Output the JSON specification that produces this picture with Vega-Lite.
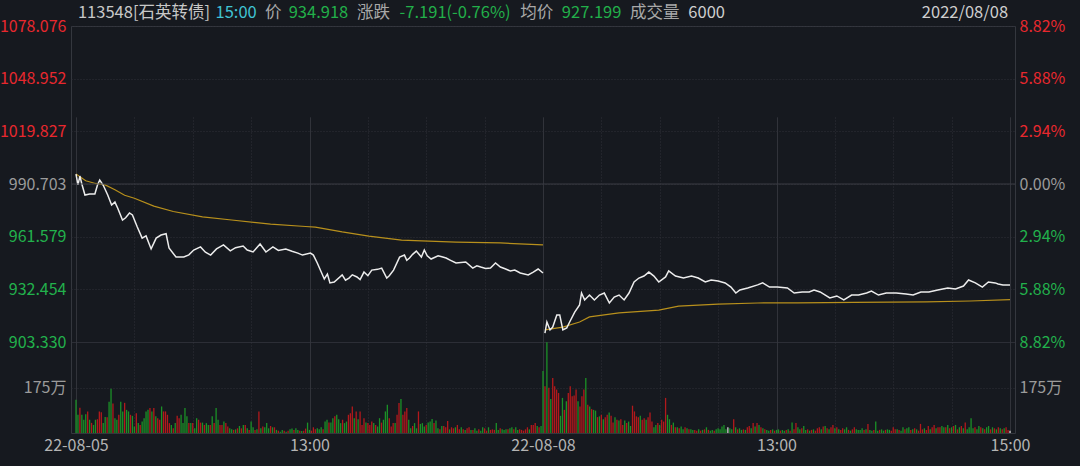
{
"$schema": "https://vega.github.io/schema/vega-lite/v6.json",
"background": "#16191f",
"autosize": {"type": "none"},
"padding": {"left": 71, "top": 26, "right": 65, "bottom": 33},
"width": 944,
"height": 407,
"config": {
  "view": {"stroke": "#34373e", "strokeWidth": 1},
  "font": "Noto Sans CJK SC",
  "axis": {"labelFont": "Noto Sans CJK SC", "labelFontSize": 16, "ticks": false, "domain": false, "title": null, "gridColor": "#2e3138", "gridWidth": 1},
  "text": {"font": "Noto Sans CJK SC", "fontSize": 16.5, "baseline": "middle", "align": "left"}
},
"datasets": {
"price": [
{"d":1,"i":0,"p":996.2},{"d":1,"i":1,"p":990.2},{"d":1,"i":2,"p":995.1},{"d":1,"i":3,"p":990.7},{"d":1,"i":4.6,"p":984.6},{"d":1,"i":7,"p":985.2},{"d":1,"i":9.7,"p":985.2},{"d":1,"i":11,"p":990},{"d":1,"i":12.2,"p":992.9},{"d":1,"i":14,"p":990},{"d":1,"i":16.3,"p":984.6},{"d":1,"i":18.3,"p":979.1},{"d":1,"i":20,"p":980.7},{"d":1,"i":21.4,"p":977.4},{"d":1,"i":23.9,"p":970.8},{"d":1,"i":25.5,"p":972},{"d":1,"i":27.5,"p":974.7},{"d":1,"i":29,"p":973.6},{"d":1,"i":31.5,"p":966.9},{"d":1,"i":34,"p":960.8},{"d":1,"i":36,"p":962},{"d":1,"i":38.6,"p":954.8},{"d":1,"i":41.2,"p":960.8},{"d":1,"i":43.7,"p":962.5},{"d":1,"i":46.3,"p":963.2},{"d":1,"i":47.8,"p":955.3},{"d":1,"i":51.4,"p":950.3},{"d":1,"i":55.4,"p":950.3},{"d":1,"i":58,"p":951.5},{"d":1,"i":60.5,"p":954.2},{"d":1,"i":64,"p":955.9},{"d":1,"i":66.5,"p":953},{"d":1,"i":69.2,"p":951.4},{"d":1,"i":72.2,"p":954.8},{"d":1,"i":75.8,"p":957},{"d":1,"i":79.3,"p":953.7},{"d":1,"i":82,"p":955.5},{"d":1,"i":85.9,"p":956.4},{"d":1,"i":88,"p":954.2},{"d":1,"i":91,"p":953.1},{"d":1,"i":94.6,"p":957.5},{"d":1,"i":97.6,"p":953.1},{"d":1,"i":101.2,"p":955.9},{"d":1,"i":104,"p":954},{"d":1,"i":107.8,"p":954.8},{"d":1,"i":111,"p":953.5},{"d":1,"i":114,"p":952.5},{"d":1,"i":116.4,"p":951.4},{"d":1,"i":120.5,"p":952.5},{"d":1,"i":122,"p":951.4},{"d":1,"i":124,"p":947},{"d":1,"i":127.6,"p":938.2},{"d":1,"i":129.2,"p":940.9},{"d":1,"i":130.5,"p":936},{"d":1,"i":132.7,"p":936.5},{"d":1,"i":136.8,"p":940.4},{"d":1,"i":138.5,"p":937.5},{"d":1,"i":140.3,"p":938.7},{"d":1,"i":142,"p":940.5},{"d":1,"i":144.4,"p":939.3},{"d":1,"i":146,"p":937.8},{"d":1,"i":148,"p":942},{"d":1,"i":150,"p":940},{"d":1,"i":152,"p":943.1},{"d":1,"i":155,"p":943.5},{"d":1,"i":157.1,"p":944.2},{"d":1,"i":159.7,"p":938.7},{"d":1,"i":161,"p":940},{"d":1,"i":163.2,"p":943.1},{"d":1,"i":166.3,"p":950.3},{"d":1,"i":168.8,"p":951.4},{"d":1,"i":170,"p":948.5},{"d":1,"i":171.4,"p":949.8},{"d":1,"i":173,"p":951.8},{"d":1,"i":174.9,"p":953.6},{"d":1,"i":177.5,"p":950.3},{"d":1,"i":179,"p":954.2},{"d":1,"i":180.5,"p":951},{"d":1,"i":182.5,"p":949.2},{"d":1,"i":186.1,"p":951},{"d":1,"i":188,"p":950.5},{"d":1,"i":190.2,"p":949.8},{"d":1,"i":192.5,"p":948.5},{"d":1,"i":195.3,"p":947},{"d":1,"i":200.3,"p":947.6},{"d":1,"i":203.9,"p":944.2},{"d":1,"i":206,"p":945.5},{"d":1,"i":208,"p":944.8},{"d":1,"i":210.5,"p":944},{"d":1,"i":213,"p":944.2},{"d":1,"i":215.6,"p":947},{"d":1,"i":218.1,"p":944.8},{"d":1,"i":220.5,"p":943.8},{"d":1,"i":223.2,"p":942.6},{"d":1,"i":225.5,"p":943.1},{"d":1,"i":228.3,"p":941.5},{"d":1,"i":232.4,"p":940.4},{"d":1,"i":235,"p":942},{"d":1,"i":237.5,"p":943.7},{"d":1,"i":240,"p":941.5},
{"d":2,"i":241,"p":908.3},{"d":2,"i":242,"p":914.4},{"d":2,"i":243.6,"p":910},{"d":2,"i":245,"p":911.6},{"d":2,"i":247.1,"p":918.3},{"d":2,"i":248.6,"p":918.3},{"d":2,"i":250.2,"p":910},{"d":2,"i":252.2,"p":911.1},{"d":2,"i":253.7,"p":914.4},{"d":2,"i":256.3,"p":919.9},{"d":2,"i":258.8,"p":923.8},{"d":2,"i":259.8,"p":930.4},{"d":2,"i":261.4,"p":926.6},{"d":2,"i":263.9,"p":929.3},{"d":2,"i":266.4,"p":926.6},{"d":2,"i":269,"p":929.3},{"d":2,"i":271.5,"p":930.4},{"d":2,"i":274.1,"p":924.9},{"d":2,"i":276.6,"p":928.2},{"d":2,"i":279.1,"p":929.3},{"d":2,"i":281.7,"p":926.6},{"d":2,"i":284.2,"p":930.4},{"d":2,"i":286.8,"p":936.5},{"d":2,"i":289.3,"p":938.7},{"d":2,"i":291.9,"p":939.8},{"d":2,"i":294.4,"p":942},{"d":2,"i":297,"p":939.8},{"d":2,"i":299.5,"p":936.5},{"d":2,"i":303,"p":939.3},{"d":2,"i":304.6,"p":942.6},{"d":2,"i":308.1,"p":939.8},{"d":2,"i":312.2,"p":938.7},{"d":2,"i":316.3,"p":939.8},{"d":2,"i":319.8,"p":938.7},{"d":2,"i":323.4,"p":936.5},{"d":2,"i":326.4,"p":937.6},{"d":2,"i":330,"p":937.1},{"d":2,"i":333.6,"p":936},{"d":2,"i":336.6,"p":933.7},{"d":2,"i":339.1,"p":930.4},{"d":2,"i":341.2,"p":932.1},{"d":2,"i":345.2,"p":933.2},{"d":2,"i":350.3,"p":934.9},{"d":2,"i":352.9,"p":936},{"d":2,"i":356.4,"p":933.7},{"d":2,"i":360.5,"p":933.7},{"d":2,"i":365.6,"p":933.2},{"d":2,"i":369.1,"p":930.4},{"d":2,"i":373.2,"p":931},{"d":2,"i":376.8,"p":931},{"d":2,"i":379.3,"p":932.1},{"d":2,"i":382.4,"p":931},{"d":2,"i":387.4,"p":927.7},{"d":2,"i":391,"p":928.8},{"d":2,"i":394.6,"p":926.6},{"d":2,"i":398.6,"p":929.3},{"d":2,"i":402.2,"p":929.3},{"d":2,"i":406.3,"p":930.4},{"d":2,"i":408.8,"p":931.5},{"d":2,"i":412.4,"p":929.3},{"d":2,"i":416.4,"p":930.4},{"d":2,"i":421.5,"p":930.4},{"d":2,"i":426.6,"p":929.9},{"d":2,"i":430.2,"p":929.3},{"d":2,"i":434.2,"p":931},{"d":2,"i":438.3,"p":931},{"d":2,"i":442.9,"p":932.1},{"d":2,"i":448,"p":933.2},{"d":2,"i":452,"p":932.6},{"d":2,"i":456.1,"p":934.3},{"d":2,"i":458.7,"p":937.6},{"d":2,"i":462.2,"p":936},{"d":2,"i":465.8,"p":933.7},{"d":2,"i":468.9,"p":936.5},{"d":2,"i":472.4,"p":936},{"d":2,"i":473.9,"p":935.4},{"d":2,"i":476.4,"p":934.9},{"d":2,"i":480,"p":934.9}
],
"avg": [
{"d":1,"i":0,"a":996.2},{"d":1,"i":5,"a":992.5},{"d":1,"i":10,"a":991},{"d":1,"i":15,"a":990.2},{"d":1,"i":20,"a":987.5},{"d":1,"i":25,"a":984.5},{"d":1,"i":30,"a":982.8},{"d":1,"i":40,"a":978.5},{"d":1,"i":50,"a":975.5},{"d":1,"i":65,"a":972.5},{"d":1,"i":80,"a":970.8},{"d":1,"i":100,"a":968.5},{"d":1,"i":118,"a":967.2},{"d":1,"i":123,"a":966.9},{"d":1,"i":136.8,"a":964.2},{"d":1,"i":150.5,"a":961.9},{"d":1,"i":167.3,"a":959.7},{"d":1,"i":195.3,"a":958.6},{"d":1,"i":218,"a":958.1},{"d":1,"i":240,"a":957},
{"d":2,"i":241,"a":910},{"d":2,"i":250.2,"a":911.6},{"d":2,"i":258.8,"a":914.4},{"d":2,"i":263.9,"a":917.2},{"d":2,"i":279.1,"a":919.4},{"d":2,"i":299.5,"a":921},{"d":2,"i":309.7,"a":923.2},{"d":2,"i":330,"a":924.3},{"d":2,"i":350.3,"a":924.9},{"d":2,"i":370.7,"a":925},{"d":2,"i":400,"a":925.2},{"d":2,"i":436.8,"a":925.5},{"d":2,"i":459.7,"a":926},{"d":2,"i":480,"a":926.8}
],
"vol": [
{"i":0,"v":128,"u":"d"},{"i":1,"v":70,"u":"d"},{"i":2,"v":97,"u":"u"},{"i":3,"v":70,"u":"d"},{"i":4,"v":51,"u":"d"},{"i":5,"v":72,"u":"d"},{"i":6,"v":83,"u":"u"},{"i":7,"v":51,"u":"d"},{"i":8,"v":39,"u":"u"},{"i":9,"v":31,"u":"d"},{"i":10,"v":51,"u":"d"},{"i":11,"v":53,"u":"u"},{"i":12,"v":83,"u":"u"},{"i":13,"v":80,"u":"u"},{"i":14,"v":38,"u":"d"},{"i":15,"v":62,"u":"d"},{"i":16,"v":61,"u":"u"},{"i":17,"v":120,"u":"d"},{"i":18,"v":170,"u":"d"},{"i":19,"v":113,"u":"u"},{"i":20,"v":57,"u":"d"},{"i":21,"v":51,"u":"d"},{"i":22,"v":70,"u":"u"},{"i":23,"v":120,"u":"d"},{"i":24,"v":83,"u":"d"},{"i":25,"v":116,"u":"u"},{"i":26,"v":89,"u":"d"},{"i":27,"v":83,"u":"d"},{"i":28,"v":70,"u":"u"},{"i":29,"v":66,"u":"d"},{"i":30,"v":25,"u":"d"},{"i":31,"v":76,"u":"u"},{"i":32,"v":38,"u":"d"},{"i":33,"v":31,"u":"u"},{"i":34,"v":44,"u":"d"},{"i":35,"v":57,"u":"d"},{"i":36,"v":83,"u":"d"},{"i":37,"v":89,"u":"d"},{"i":38,"v":96,"u":"u"},{"i":39,"v":83,"u":"d"},{"i":40,"v":96,"u":"u"},{"i":41,"v":64,"u":"d"},{"i":42,"v":57,"u":"u"},{"i":43,"v":51,"u":"u"},{"i":44,"v":102,"u":"d"},{"i":45,"v":83,"u":"u"},{"i":46,"v":83,"u":"u"},{"i":47,"v":70,"u":"u"},{"i":48,"v":38,"u":"u"},{"i":49,"v":31,"u":"d"},{"i":50,"v":18,"u":"u"},{"i":51,"v":38,"u":"d"},{"i":52,"v":66,"u":"u"},{"i":53,"v":57,"u":"u"},{"i":54,"v":70,"u":"d"},{"i":55,"v":38,"u":"d"},{"i":56,"v":96,"u":"d"},{"i":57,"v":64,"u":"d"},{"i":58,"v":38,"u":"u"},{"i":59,"v":38,"u":"d"},{"i":60,"v":38,"u":"u"},{"i":61,"v":18,"u":"d"},{"i":62,"v":57,"u":"d"},{"i":63,"v":51,"u":"u"},{"i":64,"v":40,"u":"u"},{"i":65,"v":40,"u":"d"},{"i":66,"v":31,"u":"u"},{"i":67,"v":38,"u":"d"},{"i":68,"v":31,"u":"d"},{"i":69,"v":31,"u":"u"},{"i":70,"v":64,"u":"d"},{"i":71,"v":38,"u":"u"},{"i":72,"v":96,"u":"d"},{"i":73,"v":51,"u":"d"},{"i":74,"v":31,"u":"u"},{"i":75,"v":31,"u":"u"},{"i":76,"v":44,"u":"d"},{"i":77,"v":38,"u":"u"},{"i":78,"v":25,"u":"u"},{"i":79,"v":18,"u":"d"},{"i":80,"v":14,"u":"d"},{"i":81,"v":12,"u":"u"},{"i":82,"v":14,"u":"d"},{"i":83,"v":18,"u":"u"},{"i":84,"v":27,"u":"d"},{"i":85,"v":18,"u":"u"},{"i":86,"v":31,"u":"d"},{"i":87,"v":31,"u":"u"},{"i":88,"v":18,"u":"d"},{"i":89,"v":12,"u":"u"},{"i":90,"v":44,"u":"d"},{"i":91,"v":22,"u":"d"},{"i":92,"v":12,"u":"u"},{"i":93,"v":14,"u":"d"},{"i":94,"v":83,"u":"u"},{"i":95,"v":18,"u":"d"},{"i":96,"v":25,"u":"u"},{"i":97,"v":22,"u":"d"},{"i":98,"v":38,"u":"d"},{"i":99,"v":18,"u":"d"},{"i":100,"v":27,"u":"u"},{"i":101,"v":22,"u":"d"},{"i":102,"v":22,"u":"u"},{"i":103,"v":12,"u":"d"},{"i":104,"v":9,"u":"u"},{"i":105,"v":5,"u":"d"},{"i":106,"v":12,"u":"d"},{"i":107,"v":9,"u":"u"},{"i":108,"v":5,"u":"d"},{"i":109,"v":9,"u":"u"},{"i":110,"v":14,"u":"d"},{"i":111,"v":17,"u":"d"},{"i":112,"v":12,"u":"u"},{"i":113,"v":18,"u":"d"},{"i":114,"v":12,"u":"d"},{"i":115,"v":9,"u":"u"},{"i":116,"v":8,"u":"d"},{"i":117,"v":9,"u":"u"},{"i":118,"v":17,"u":"u"},{"i":119,"v":40,"u":"d"},{"i":120,"v":12,"u":"d"},{"i":121,"v":9,"u":"u"},{"i":122,"v":22,"u":"u"},{"i":123,"v":14,"u":"u"},{"i":124,"v":18,"u":"d"},{"i":125,"v":14,"u":"d"},{"i":126,"v":22,"u":"d"},{"i":127,"v":14,"u":"u"},{"i":128,"v":44,"u":"d"},{"i":129,"v":51,"u":"d"},{"i":130,"v":40,"u":"u"},{"i":131,"v":40,"u":"d"},{"i":132,"v":57,"u":"d"},{"i":133,"v":64,"u":"u"},{"i":134,"v":70,"u":"d"},{"i":135,"v":53,"u":"d"},{"i":136,"v":38,"u":"d"},{"i":137,"v":51,"u":"u"},{"i":138,"v":38,"u":"d"},{"i":139,"v":44,"u":"d"},{"i":140,"v":70,"u":"u"},{"i":141,"v":76,"u":"u"},{"i":142,"v":102,"u":"u"},{"i":143,"v":57,"u":"d"},{"i":144,"v":83,"u":"u"},{"i":145,"v":53,"u":"d"},{"i":146,"v":83,"u":"u"},
{"i":147,"v":31,"u":"u"},{"i":148,"v":57,"u":"u"},{"i":149,"v":40,"u":"d"},{"i":150,"v":38,"u":"u"},{"i":151,"v":31,"u":"u"},{"i":152,"v":44,"u":"u"},{"i":153,"v":38,"u":"d"},{"i":154,"v":31,"u":"u"},{"i":155,"v":25,"u":"d"},{"i":156,"v":57,"u":"d"},{"i":157,"v":40,"u":"u"},{"i":158,"v":51,"u":"d"},{"i":159,"v":83,"u":"d"},{"i":160,"v":109,"u":"d"},{"i":161,"v":57,"u":"u"},{"i":162,"v":25,"u":"u"},{"i":163,"v":38,"u":"u"},{"i":164,"v":38,"u":"d"},{"i":165,"v":70,"u":"u"},{"i":166,"v":115,"u":"u"},{"i":167,"v":131,"u":"d"},{"i":168,"v":70,"u":"u"},{"i":169,"v":83,"u":"u"},{"i":170,"v":96,"u":"u"},{"i":171,"v":51,"u":"d"},{"i":172,"v":18,"u":"d"},{"i":173,"v":27,"u":"u"},{"i":174,"v":38,"u":"d"},{"i":175,"v":18,"u":"d"},{"i":176,"v":83,"u":"u"},{"i":177,"v":35,"u":"d"},{"i":178,"v":38,"u":"d"},{"i":179,"v":25,"u":"d"},{"i":180,"v":31,"u":"u"},{"i":181,"v":40,"u":"d"},{"i":182,"v":44,"u":"d"},{"i":183,"v":54,"u":"d"},{"i":184,"v":38,"u":"u"},{"i":185,"v":48,"u":"d"},{"i":186,"v":18,"u":"d"},{"i":187,"v":14,"u":"u"},{"i":188,"v":27,"u":"d"},{"i":189,"v":27,"u":"u"},{"i":190,"v":22,"u":"u"},{"i":191,"v":46,"u":"u"},{"i":192,"v":14,"u":"d"},{"i":193,"v":22,"u":"u"},{"i":194,"v":18,"u":"u"},{"i":195,"v":22,"u":"d"},{"i":196,"v":31,"u":"u"},{"i":197,"v":14,"u":"u"},{"i":198,"v":22,"u":"d"},{"i":199,"v":14,"u":"u"},{"i":200,"v":12,"u":"d"},{"i":201,"v":18,"u":"u"},{"i":202,"v":22,"u":"u"},{"i":203,"v":12,"u":"d"},{"i":204,"v":12,"u":"u"},{"i":205,"v":18,"u":"d"},{"i":206,"v":9,"u":"d"},{"i":207,"v":14,"u":"u"},{"i":208,"v":9,"u":"d"},{"i":209,"v":22,"u":"d"},{"i":210,"v":18,"u":"u"},{"i":211,"v":9,"u":"u"},{"i":212,"v":22,"u":"d"},{"i":213,"v":12,"u":"u"},{"i":214,"v":14,"u":"u"},{"i":215,"v":12,"u":"u"},{"i":216,"v":38,"u":"d"},{"i":217,"v":12,"u":"d"},{"i":218,"v":18,"u":"u"},{"i":219,"v":14,"u":"d"},{"i":220,"v":12,"u":"d"},{"i":221,"v":14,"u":"d"},{"i":222,"v":14,"u":"u"},{"i":223,"v":18,"u":"d"},{"i":224,"v":22,"u":"d"},{"i":225,"v":14,"u":"u"},{"i":226,"v":22,"u":"d"},{"i":227,"v":12,"u":"d"},{"i":228,"v":14,"u":"u"},{"i":229,"v":12,"u":"u"},{"i":230,"v":9,"u":"u"},{"i":231,"v":14,"u":"u"},{"i":232,"v":22,"u":"u"},{"i":233,"v":14,"u":"d"},{"i":234,"v":31,"u":"u"},{"i":235,"v":31,"u":"u"},{"i":236,"v":38,"u":"u"},{"i":237,"v":27,"u":"d"},{"i":238,"v":22,"u":"u"},{"i":239,"v":27,"u":"d"},
{"i":240,"v":238,"u":"d"},{"i":241,"v":180,"u":"u"},{"i":242,"v":349,"u":"d"},{"i":243,"v":174,"u":"u"},{"i":244,"v":131,"u":"d"},{"i":245,"v":212,"u":"u"},{"i":246,"v":180,"u":"u"},{"i":247,"v":167,"u":"u"},{"i":248,"v":154,"u":"u"},{"i":249,"v":66,"u":"d"},{"i":250,"v":135,"u":"d"},{"i":251,"v":89,"u":"u"},{"i":252,"v":122,"u":"d"},{"i":253,"v":154,"u":"u"},{"i":254,"v":180,"u":"u"},{"i":255,"v":141,"u":"u"},{"i":256,"v":144,"u":"u"},{"i":257,"v":167,"u":"u"},{"i":258,"v":122,"u":"d"},{"i":259,"v":102,"u":"u"},{"i":260,"v":141,"u":"u"},{"i":261,"v":167,"u":"u"},{"i":262,"v":212,"u":"d"},{"i":263,"v":109,"u":"u"},{"i":264,"v":102,"u":"d"},{"i":265,"v":92,"u":"u"},{"i":266,"v":89,"u":"d"},{"i":267,"v":86,"u":"d"},{"i":268,"v":61,"u":"u"},{"i":269,"v":64,"u":"d"},{"i":270,"v":70,"u":"u"},{"i":271,"v":53,"u":"d"},{"i":272,"v":61,"u":"u"},{"i":273,"v":70,"u":"u"},{"i":274,"v":79,"u":"d"},{"i":275,"v":66,"u":"u"},{"i":276,"v":40,"u":"u"},{"i":277,"v":61,"u":"d"},{"i":278,"v":51,"u":"u"},{"i":279,"v":48,"u":"d"},{"i":280,"v":53,"u":"u"},{"i":281,"v":31,"u":"u"},{"i":282,"v":48,"u":"d"},{"i":283,"v":38,"u":"u"},{"i":284,"v":44,"u":"d"},{"i":285,"v":27,"u":"d"},{"i":286,"v":105,"u":"u"},{"i":287,"v":83,"u":"u"},{"i":288,"v":64,"u":"u"},{"i":289,"v":61,"u":"u"},{"i":290,"v":66,"u":"d"},{"i":291,"v":51,"u":"u"},{"i":292,"v":57,"u":"u"},{"i":293,"v":51,"u":"d"},{"i":294,"v":61,"u":"u"},{"i":295,"v":79,"u":"u"},{"i":296,"v":44,"u":"u"},{"i":297,"v":22,"u":"d"},{"i":298,"v":31,"u":"d"},{"i":299,"v":38,"u":"u"},{"i":300,"v":31,"u":"d"},{"i":301,"v":51,"u":"u"},{"i":302,"v":44,"u":"u"},{"i":303,"v":135,"u":"u"},{"i":304,"v":70,"u":"d"},{"i":305,"v":53,"u":"d"},{"i":306,"v":31,"u":"u"},{"i":307,"v":40,"u":"d"},{"i":308,"v":22,"u":"u"},{"i":309,"v":22,"u":"d"},{"i":310,"v":18,"u":"u"},{"i":311,"v":25,"u":"d"},{"i":312,"v":14,"u":"d"},{"i":313,"v":22,"u":"u"},{"i":314,"v":18,"u":"d"},{"i":315,"v":14,"u":"u"},{"i":316,"v":14,"u":"d"},{"i":317,"v":12,"u":"d"},{"i":318,"v":12,"u":"u"},{"i":319,"v":9,"u":"u"},{"i":320,"v":14,"u":"d"},{"i":321,"v":9,"u":"u"},{"i":322,"v":12,"u":"d"},{"i":323,"v":14,"u":"u"},{"i":324,"v":22,"u":"d"},{"i":325,"v":12,"u":"u"},{"i":326,"v":9,"u":"d"},{"i":327,"v":12,"u":"d"},{"i":328,"v":9,"u":"u"},{"i":329,"v":14,"u":"d"},
{"i":330,"v":18,"u":"d"},{"i":331,"v":14,"u":"d"},{"i":332,"v":25,"u":"d"},{"i":333,"v":31,"u":"d"},{"i":334,"v":14,"u":"d"},{"i":335,"v":22,"u":"f"},{"i":336,"v":18,"u":"d"},{"i":337,"v":14,"u":"d"},{"i":338,"v":53,"u":"u"},{"i":339,"v":22,"u":"d"},{"i":340,"v":14,"u":"u"},{"i":341,"v":18,"u":"d"},{"i":342,"v":12,"u":"d"},{"i":343,"v":14,"u":"u"},{"i":344,"v":12,"u":"d"},{"i":345,"v":22,"u":"u"},{"i":346,"v":27,"u":"u"},{"i":347,"v":18,"u":"d"},{"i":348,"v":38,"u":"u"},{"i":349,"v":25,"u":"d"},{"i":350,"v":38,"u":"u"},{"i":351,"v":31,"u":"d"},{"i":352,"v":22,"u":"u"},{"i":353,"v":18,"u":"d"},{"i":354,"v":14,"u":"u"},{"i":355,"v":12,"u":"d"},{"i":356,"v":9,"u":"d"},{"i":357,"v":12,"u":"u"},{"i":358,"v":14,"u":"d"},{"i":359,"v":9,"u":"u"},{"i":360,"v":12,"u":"d"},{"i":361,"v":14,"u":"d"},{"i":362,"v":9,"u":"u"},{"i":363,"v":12,"u":"d"},{"i":364,"v":9,"u":"d"},{"i":365,"v":12,"u":"u"},{"i":366,"v":14,"u":"d"},{"i":367,"v":9,"u":"u"},{"i":368,"v":40,"u":"d"},{"i":369,"v":14,"u":"u"},{"i":370,"v":38,"u":"u"},{"i":371,"v":22,"u":"d"},{"i":372,"v":14,"u":"d"},{"i":373,"v":18,"u":"u"},{"i":374,"v":27,"u":"d"},{"i":375,"v":12,"u":"d"},{"i":376,"v":14,"u":"u"},{"i":377,"v":9,"u":"d"},{"i":378,"v":12,"u":"u"},{"i":379,"v":14,"u":"d"},{"i":380,"v":9,"u":"u"},{"i":381,"v":18,"u":"u"},{"i":382,"v":22,"u":"u"},{"i":383,"v":14,"u":"d"},{"i":384,"v":25,"u":"u"},{"i":385,"v":27,"u":"d"},{"i":386,"v":18,"u":"u"},{"i":387,"v":14,"u":"d"},{"i":388,"v":22,"u":"u"},{"i":389,"v":31,"u":"u"},{"i":390,"v":18,"u":"d"},{"i":391,"v":22,"u":"u"},{"i":392,"v":14,"u":"d"},{"i":393,"v":12,"u":"u"},{"i":394,"v":18,"u":"u"},{"i":395,"v":14,"u":"d"},{"i":396,"v":22,"u":"d"},{"i":397,"v":12,"u":"u"},{"i":398,"v":9,"u":"d"},{"i":399,"v":14,"u":"u"},{"i":400,"v":22,"u":"u"},{"i":401,"v":14,"u":"d"},{"i":402,"v":12,"u":"d"},{"i":403,"v":12,"u":"d"},{"i":404,"v":18,"u":"d"},{"i":405,"v":12,"u":"u"},{"i":406,"v":14,"u":"d"},{"i":407,"v":35,"u":"u"},{"i":408,"v":12,"u":"d"},{"i":409,"v":9,"u":"d"},{"i":410,"v":12,"u":"u"},{"i":411,"v":44,"u":"d"},{"i":412,"v":9,"u":"d"},{"i":413,"v":12,"u":"u"},{"i":414,"v":14,"u":"d"},{"i":415,"v":9,"u":"d"},{"i":416,"v":12,"u":"u"},{"i":417,"v":14,"u":"d"},{"i":418,"v":12,"u":"d"},{"i":419,"v":9,"u":"u"},{"i":420,"v":22,"u":"u"},{"i":421,"v":14,"u":"u"},{"i":422,"v":14,"u":"d"},{"i":423,"v":12,"u":"u"},{"i":424,"v":9,"u":"d"},{"i":425,"v":22,"u":"d"},{"i":426,"v":14,"u":"u"},{"i":427,"v":18,"u":"d"},{"i":428,"v":22,"u":"d"},{"i":429,"v":12,"u":"u"},{"i":430,"v":14,"u":"d"},{"i":431,"v":18,"u":"u"},{"i":432,"v":14,"u":"d"},{"i":433,"v":9,"u":"u"},{"i":434,"v":35,"u":"u"},{"i":435,"v":14,"u":"u"},{"i":436,"v":18,"u":"d"},{"i":437,"v":12,"u":"u"},{"i":438,"v":27,"u":"u"},{"i":439,"v":14,"u":"d"},{"i":440,"v":22,"u":"u"},{"i":441,"v":31,"u":"u"},{"i":442,"v":18,"u":"d"},{"i":443,"v":22,"u":"u"},{"i":444,"v":22,"u":"u"},{"i":445,"v":27,"u":"d"},{"i":446,"v":22,"u":"d"},{"i":447,"v":22,"u":"u"},{"i":448,"v":31,"u":"d"},{"i":449,"v":18,"u":"u"},{"i":450,"v":22,"u":"d"},{"i":451,"v":27,"u":"u"},{"i":452,"v":31,"u":"d"},{"i":453,"v":14,"u":"u"},{"i":454,"v":22,"u":"d"},{"i":455,"v":27,"u":"u"},{"i":456,"v":18,"u":"d"},{"i":457,"v":40,"u":"u"},{"i":458,"v":14,"u":"d"},{"i":459,"v":22,"u":"d"},{"i":460,"v":57,"u":"d"},{"i":461,"v":18,"u":"d"},{"i":462,"v":22,"u":"u"},{"i":463,"v":14,"u":"d"},{"i":464,"v":27,"u":"d"},{"i":465,"v":22,"u":"u"},{"i":466,"v":18,"u":"d"},{"i":467,"v":14,"u":"u"},{"i":468,"v":22,"u":"d"},{"i":469,"v":27,"u":"d"},{"i":470,"v":14,"u":"u"},{"i":471,"v":22,"u":"d"},{"i":472,"v":18,"u":"u"},{"i":473,"v":14,"u":"d"},{"i":474,"v":22,"u":"u"},{"i":475,"v":18,"u":"d"},{"i":476,"v":14,"u":"u"},{"i":477,"v":18,"u":"d"},{"i":478,"v":22,"u":"u"},{"i":479,"v":12,"u":"u"},{"i":480,"v":9,"u":"f"}
]
},
"layer": [
  {
    "layer": [
      {"data": {"name": "avg"}, "mark": {"type": "line", "color": "#b8901c", "strokeWidth": 1.2},
       "encoding": {
         "x": {"field": "i", "type": "quantitative", "scale": {"domain": [0, 480], "nice": false, "zero": false},
               "axis": {"values": [0,30,60,90,120,150,180,210,240,270,300,330,360,390,420,450,480],
                        "labelExpr": "datum.value == 0 ? '22-08-05' : datum.value == 120 ? '13:00' : datum.value == 240 ? '22-08-08' : datum.value == 360 ? '13:00' : datum.value == 480 ? '15:00' : ''",
                        "labelColor": "#b4b4b4", "labelFontSize": 16, "labelPadding": 4, "labelFlush": false, "labelOverlap": false, "labelBound": false, "grid": true,
                        "gridDash": {"condition": {"test": "datum.value % 120 == 0", "value": [1,0]}, "value": [1,2]},
                        "gridColor": {"condition": {"test": "datum.value % 120 == 0", "value": "#3a3d44"}, "value": "#2e3138"}}},
         "y": {"field": "a", "type": "quantitative", "scale": {"domain": [903.33, 1078.076], "range": [316, 0], "nice": false, "zero": false},
               "axis": {"orient": "left", "values": [903.33, 932.454, 961.579, 990.703, 1019.827, 1048.952, 1078.076], "format": ".3f", "grid": true, "labelPadding": 5,
                        "gridDash": {"condition": {"test": "datum.value < 904", "value": [1,0]}, "value": [1,2]},
                        "gridColor": {"condition": {"test": "datum.value < 904", "value": "#34373e"}, "value": "#2e3138"},
                        "labelColor": {"condition": [{"test": "datum.value > 990.71", "value": "#e8282e"}, {"test": "datum.value > 990.69", "value": "#9b9b9b"}], "value": "#22b14c"}}},
         "detail": {"field": "d"}
       }},
      {"data": {"name": "price"}, "mark": {"type": "line", "color": "#ececec", "strokeWidth": 1.5},
       "encoding": {"x": {"field": "i", "type": "quantitative"}, "y": {"field": "p", "type": "quantitative"}, "detail": {"field": "d"}}},
      {"data": {"values": [{}]}, "mark": {"type": "text", "color": "#c8c8c8", "text": "113548[石英转债]"}, "encoding": {"x": {"datum": 1.0, "type": "quantitative"}, "y": {"datum": 1085.27, "type": "quantitative"}}},
      {"data": {"values": [{}]}, "mark": {"type": "text", "color": "#40c4d4", "text": "15:00"}, "encoding": {"x": {"datum": 71.7, "type": "quantitative"}, "y": {"datum": 1085.27, "type": "quantitative"}}},
      {"data": {"values": [{}]}, "mark": {"type": "text", "color": "#a8a8a8", "text": "价"}, "encoding": {"x": {"datum": 97.1, "type": "quantitative"}, "y": {"datum": 1085.27, "type": "quantitative"}}},
      {"data": {"values": [{}]}, "mark": {"type": "text", "color": "#22b04a", "text": "934.918"}, "encoding": {"x": {"datum": 109.3, "type": "quantitative"}, "y": {"datum": 1085.27, "type": "quantitative"}}},
      {"data": {"values": [{}]}, "mark": {"type": "text", "color": "#a8a8a8", "text": "涨跌"}, "encoding": {"x": {"datum": 144.4, "type": "quantitative"}, "y": {"datum": 1085.27, "type": "quantitative"}}},
      {"data": {"values": [{}]}, "mark": {"type": "text", "color": "#22b04a", "text": "-7.191(-0.76%)"}, "encoding": {"x": {"datum": 166.3, "type": "quantitative"}, "y": {"datum": 1085.27, "type": "quantitative"}}},
      {"data": {"values": [{}]}, "mark": {"type": "text", "color": "#a8a8a8", "text": "均价"}, "encoding": {"x": {"datum": 228.3, "type": "quantitative"}, "y": {"datum": 1085.27, "type": "quantitative"}}},
      {"data": {"values": [{}]}, "mark": {"type": "text", "color": "#22b04a", "text": "927.199"}, "encoding": {"x": {"datum": 249.7, "type": "quantitative"}, "y": {"datum": 1085.27, "type": "quantitative"}}},
      {"data": {"values": [{}]}, "mark": {"type": "text", "color": "#a8a8a8", "text": "成交量"}, "encoding": {"x": {"datum": 284.7, "type": "quantitative"}, "y": {"datum": 1085.27, "type": "quantitative"}}},
      {"data": {"values": [{}]}, "mark": {"type": "text", "color": "#cfcfcf", "text": "6000"}, "encoding": {"x": {"datum": 314.7, "type": "quantitative"}, "y": {"datum": 1085.27, "type": "quantitative"}}},
      {"data": {"values": [{}]}, "mark": {"type": "text", "color": "#cfcfcf", "text": "2022/08/08", "align": "right"}, "encoding": {"x": {"datum": 479, "type": "quantitative"}, "y": {"datum": 1085.27, "type": "quantitative"}}}
    ]
  },
  {"data": {"values": [{}]}, "mark": {"type": "rule", "color": "#3a3d44", "strokeWidth": 1.2},
   "encoding": {"y": {"datum": 0, "type": "quantitative", "scale": {"domain": [-8.82, 8.82], "range": [316, 0], "nice": false, "zero": false},
     "axis": {"orient": "right", "values": [-8.82, -5.88, -2.94, 0, 2.94, 5.88, 8.82], "grid": false, "labelPadding": 4,
              "labelExpr": "format(abs(datum.value), '.2f') + '%'",
              "labelColor": {"condition": [{"test": "datum.value > 0.001", "value": "#e8282e"}, {"test": "datum.value > -0.001", "value": "#9b9b9b"}], "value": "#22b14c"}}}}},
  {"data": {"name": "vol"}, "mark": {"type": "bar", "size": 1.3},
   "encoding": {
     "x": {"field": "i", "type": "quantitative"},
     "y": {"field": "v", "type": "quantitative", "scale": {"domain": [0, 350], "range": [407, 316], "nice": false},
           "axis": {"orient": "left", "values": [175], "labelExpr": "'175万'", "labelColor": "#9b9b9b", "grid": true, "gridDash": [1,2], "labelPadding": 5}},
     "color": {"field": "u", "type": "nominal", "scale": {"domain": ["u", "d", "f"], "range": ["#b3191c", "#1b9127", "#cfcfcf"]}, "legend": null}
   }},
  {"data": {"values": [{}]}, "mark": {"type": "rule", "opacity": 0},
   "encoding": {"y": {"datum": 175, "type": "quantitative", "scale": {"domain": [0, 350], "range": [407, 316], "nice": false},
     "axis": {"orient": "right", "values": [175], "labelExpr": "'175万'", "labelColor": "#9b9b9b", "grid": false, "labelPadding": 4}}}}
],
"resolve": {"scale": {"y": "independent"}}
}
